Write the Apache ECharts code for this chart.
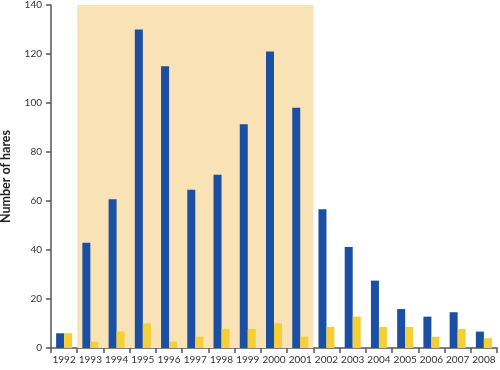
<!DOCTYPE html>
<html>
<head>
<meta charset="utf-8">
<script src="https://cdn.jsdelivr.net/npm/echarts@6/dist/echarts.min.js"></script>
<style>
html,body{margin:0;padding:0;background:#fff;}
#chart{width:500px;height:370px;}
</style>
</head>
<body>
<div id="chart"></div>
<script>
var years = ['1992','1993','1994','1995','1996','1997','1998','1999','2000','2001','2002','2003','2004','2005','2006','2007','2008'];
var blueValues = [6, 43, 60.7, 130, 115, 64.6, 70.7, 91.3, 121, 98.1, 56.6, 41.2, 27.5, 15.9, 12.8, 14.6, 6.7];
var yellowValues = [6, 2.6, 6.7, 10.1, 2.6, 4.6, 7.8, 7.8, 10.1, 4.6, 8.6, 12.8, 8.6, 8.6, 4.6, 7.8, 4.0];
var yTicks = [0, 20, 40, 60, 80, 100, 120, 140];
var shadedYears = ['1993', '2001'];

var shadeStart = years.indexOf(shadedYears[0]);
var shadeEnd = years.indexOf(shadedYears[1]) + 1;

var chart = echarts.init(document.getElementById('chart'), null, {renderer: 'canvas'});
var fontFamily = 'Lato, "Open Sans", sans-serif';
chart.setOption({
  animation: false,
  textStyle: {fontFamily: fontFamily},
  grid: {left: 51, right: 3, top: 5, bottom: 22, containLabel: false, outerBoundsMode: 'none'},
  xAxis: [{
    type: 'category',
    data: years,
    boundaryGap: true,
    axisLine: {lineStyle: {color: '#555', width: 1.5}},
    axisTick: {show: true, alignWithLabel: false, length: 5, lineStyle: {color: '#555', width: 1.5}},
    axisLabel: {color: '#333', fontSize: 10, margin: 7, interval: 0, fontFamily: fontFamily},
    splitLine: {show: false}
  }, {
    type: 'value',
    min: 0,
    max: years.length,
    show: false
  }],
  yAxis: {
    type: 'value',
    min: yTicks[0],
    max: yTicks[yTicks.length - 1],
    interval: yTicks[1] - yTicks[0],
    name: 'Number of hares',
    nameLocation: 'middle',
    nameGap: 39,
    nameTextStyle: {fontWeight: 'bold', fontSize: 12.5, color: '#222', fontFamily: fontFamily},
    axisLine: {show: true, lineStyle: {color: '#555', width: 1.5}},
    axisTick: {show: true, length: 5, lineStyle: {color: '#555', width: 1.5}},
    axisLabel: {color: '#333', fontSize: 10, margin: 9, fontFamily: fontFamily},
    splitLine: {show: false}
  },
  series: [{
    type: 'bar',
    xAxisIndex: 1,
    data: [],
    silent: true,
    markArea: {
      silent: true,
      itemStyle: {color: '#f9e3b6'},
      data: [[{xAxis: shadeStart}, {xAxis: shadeEnd}]]
    }
  }, {
    type: 'bar',
    name: 'Blue',
    data: blueValues,
    barWidth: 8,
    barGap: '0%',
    itemStyle: {color: '#1b4fa3'},
    z: 3
  }, {
    type: 'bar',
    name: 'Yellow',
    data: yellowValues,
    barWidth: 8,
    barGap: '0%',
    itemStyle: {color: '#f4cf35'},
    z: 3
  }]
});
</script>
</body>
</html>
